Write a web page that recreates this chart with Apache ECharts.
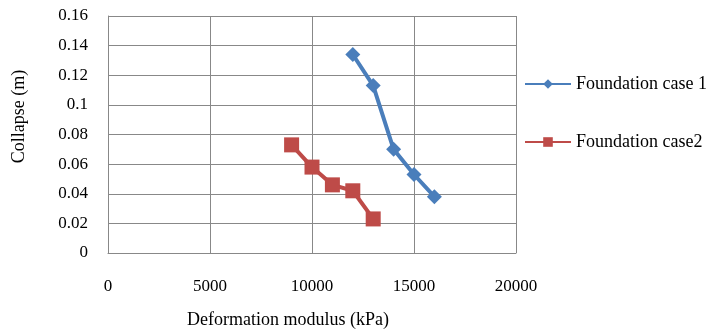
<!DOCTYPE html>
<html>
<head>
<meta charset="utf-8">
<script src="https://cdn.jsdelivr.net/npm/echarts@6/dist/echarts.min.js"></script>
<style>
  html, body { margin: 0; padding: 0; background: #fff; }
  #chart { width: 715px; height: 331px; }
</style>
</head>
<body>
<div id="chart"></div>
<script>
const case1Modulus = [12000, 13000, 14000, 15000, 16000]
const case1Collapse = [0.134, 0.113, 0.070, 0.053, 0.038]
const case2Modulus = [9000, 10000, 11000, 12000, 13000]
const case2Collapse = [0.073, 0.058, 0.046, 0.042, 0.023]
const seriesNames = ['Foundation case 1', 'Foundation case2']

const font = 'Liberation Serif'

function pairs(xs, ys) {
  return xs.map((x, i) => [x, ys[i]])
}

const chart = echarts.init(document.getElementById('chart'))
chart.setOption({
  animation: false,
  textStyle: { fontFamily: font, color: '#000' },
  grid: { left: 108, top: 16, right: 199, bottom: 78, outerBoundsMode: 'none', containLabel: false },
  legend: {
    orient: 'vertical',
    left: 519,
    top: 70,
    itemGap: 40,
    itemWidth: 46,
    itemHeight: 12,
    textStyle: { fontFamily: font, fontSize: 18, color: '#000' },
    data: seriesNames
  },
  xAxis: {
    type: 'value',
    min: 0,
    max: 20000,
    interval: 5000,
    name: 'Deformation modulus (kPa)',
    nameLocation: 'middle',
    nameGap: 58,
    nameTextStyle: { fontFamily: font, fontSize: 18, color: '#000', padding: [0, 48, 0, 0] },
    axisLine: { lineStyle: { color: '#888' } },
    axisTick: { show: false },
    axisLabel: {
      margin: 25,
      fontFamily: font,
      fontSize: 17,
      color: '#000',
      formatter: v => String(v)
    },
    splitLine: { show: true, lineStyle: { color: '#888' } }
  },
  yAxis: {
    type: 'value',
    min: 0,
    max: 0.16,
    interval: 0.02,
    name: 'Collapse (m)',
    nameLocation: 'middle',
    nameGap: 80,
    nameTextStyle: { fontFamily: font, fontSize: 18, color: '#000', padding: [0, 0, 0, 36] },
    axisLine: { show: true, lineStyle: { color: '#888' } },
    axisTick: { show: false },
    axisLabel: { margin: 20, fontFamily: font, fontSize: 17, color: '#000' },
    splitLine: { show: true, lineStyle: { color: '#888' } }
  },
  series: [
    {
      name: seriesNames[0],
      type: 'line',
      data: pairs(case1Modulus, case1Collapse),
      symbol: 'diamond',
      symbolSize: 15,
      color: '#4a7ebb',
      lineStyle: { width: 4, color: '#4a7ebb' }
    },
    {
      name: seriesNames[1],
      type: 'line',
      data: pairs(case2Modulus, case2Collapse),
      symbol: 'rect',
      symbolSize: 15,
      color: '#be4b48',
      lineStyle: { width: 4, color: '#be4b48' }
    }
  ]
})
</script>
</body>
</html>
